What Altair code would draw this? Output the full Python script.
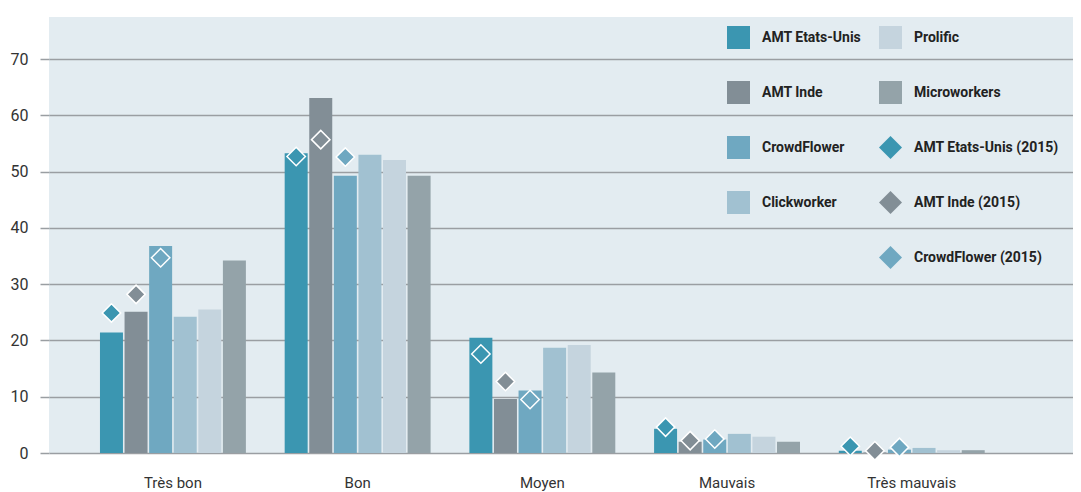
import altair as alt
import pandas as pd

categories = ["Très bon", "Bon", "Moyen", "Mauvais", "Très mauvais"]
series = ["AMT Etats-Unis", "AMT Inde", "CrowdFlower", "Clickworker", "Prolific", "Microworkers"]
amt_us = [21.4, 53.3, 20.5, 4.3, 0.4]
amt_inde = [25.1, 63.1, 9.6, 2.0, 0.1]
crowdflower = [36.8, 49.3, 11.1, 2.4, 0.6]
clickworker = [24.2, 53.0, 18.7, 3.4, 0.9]
prolific = [25.5, 52.1, 19.2, 2.9, 0.5]
microworkers = [34.2, 49.3, 14.3, 2.0, 0.5]

series_2015 = ["AMT Etats-Unis (2015)", "AMT Inde (2015)", "CrowdFlower (2015)"]
base_2015 = ["AMT Etats-Unis", "AMT Inde", "CrowdFlower"]
amt_us_2015 = [24.9, 52.7, 17.6, 4.6, 1.2]
amt_inde_2015 = [28.2, 55.7, 12.7, 2.2, 0.4]
crowdflower_2015 = [34.7, 52.6, 9.5, 2.5, 1.0]

y_ticks = [0, 10, 20, 30, 40, 50, 60, 70]

bg = "#e3ecf1"

# legend order (column-major, 2 columns x 5 rows), with one blank slot
legend_domain = ["AMT Etats-Unis", "AMT Inde", "CrowdFlower", "Clickworker", " ",
                 "Prolific", "Microworkers", "AMT Etats-Unis (2015)", "AMT Inde (2015)", "CrowdFlower (2015)"]
legend_colors = ["#3b96b1", "#828e96", "#6fa8c1", "#a1c1d1", bg,
                 "#c5d4de", "#94a3a9", "#3b96b1", "#828e96", "#6fa8c1"]
legend_shapes = ["square", "square", "square", "square", "M0,0",
                 "square", "square", "diamond", "diamond", "diamond"]

bar_vals = [amt_us, amt_inde, crowdflower, clickworker, prolific, microworkers]
rows = []
for s, vals in zip(series, bar_vals):
    for c, v in zip(categories, vals):
        rows.append({"cat": c, "base": s, "legend": s, "value": v})
bar_df = pd.DataFrame(rows)

pt_vals = [amt_us_2015, amt_inde_2015, crowdflower_2015]
prow = []
for s, b, vals in zip(series_2015, base_2015, pt_vals):
    for c, v in zip(categories, vals):
        prow.append({"cat": c, "base": b, "legend": s, "value": v})
pt_df = pd.DataFrame(prow)

FONT = "Roboto, Liberation Sans, sans-serif"

x_enc = alt.X("cat:N", sort=categories,
              scale=alt.Scale(domain=categories, paddingInner=0.21, paddingOuter=0.377, align=0.366),
              axis=alt.Axis(title=None, labelAngle=0, ticks=False, domain=False, grid=False,
                            labelPadding=22, labelFontSize=15, labelFont=FONT, labelColor="#333333"))
xo_enc = alt.XOffset("base:N", scale=alt.Scale(domain=series, paddingInner=0.065, paddingOuter=0))
y_enc = alt.Y("value:Q", scale=alt.Scale(domain=[0, 77.5], nice=False, zero=True),
              axis=alt.Axis(title=None, values=y_ticks, grid=True, gridColor="#9a9ea2", gridWidth=1.5,
                            ticks=True, tickSize=9, tickColor="#9a9ea2", tickWidth=1.5, domain=False,
                            labelPadding=12, labelFontSize=16, labelFont=FONT, labelColor="#333333"))
leg = alt.Legend(title=None, orient="none", legendX=677, legendY=8, columns=2,
                 symbolSize=529, rowPadding=26, columnPadding=14, labelOffset=11,
                 labelFont=FONT, labelFontSize=14, labelFontWeight="bold", labelColor="#222222",
                 symbolStrokeColor="white", symbolStrokeWidth=1.5, symbolOpacity=1, padding=0)

color_enc = alt.Color("legend:N", scale=alt.Scale(domain=legend_domain, range=legend_colors), legend=leg)

bars = alt.Chart(bar_df).mark_bar(opacity=1).encode(
    x=x_enc, xOffset=xo_enc, y=y_enc, color=color_enc
)

points = alt.Chart(pt_df).mark_point(filled=True, opacity=1, size=340, stroke="white", strokeWidth=1.5).encode(
    x=x_enc, xOffset=xo_enc, y=y_enc, color=color_enc,
    shape=alt.Shape("legend:N", scale=alt.Scale(domain=legend_domain, range=legend_shapes), legend=leg)
)

chart = alt.layer(bars, points).properties(
    width=1024, height=436,
    padding={"left": 41, "top": 9, "right": 0, "bottom": 38},
    autosize=alt.AutoSizeParams(type="none")
).configure_view(fill=bg, strokeWidth=0)

chart.save("out.html", embed_options={"renderer": "svg", "actions": False})
